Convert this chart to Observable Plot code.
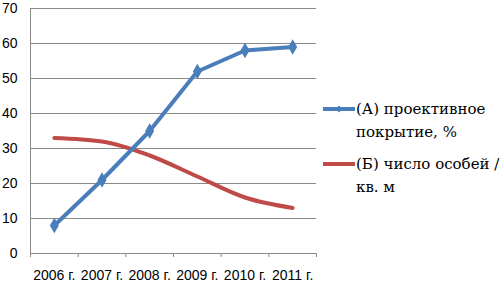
<!DOCTYPE html>
<html><head><meta charset="utf-8">
<script src="https://cdn.jsdelivr.net/npm/d3@7"></script>
<script src="https://cdn.jsdelivr.net/npm/@observablehq/plot@0.6"></script>
<style>
body{margin:0;background:#fff;}
#wrap{position:relative;width:502px;height:282px;overflow:hidden;}
.leg{position:absolute;left:356px;font-family:'DejaVu Serif';font-size:15px;line-height:23px;color:#000;white-space:nowrap;}
</style></head>
<body><div id="wrap"></div>
<script>
const years = ["2006 г.","2007 г.","2008 г.","2009 г.","2010 г.","2011 г."];
const seriesA = [8,21,35,52,58,59];
const seriesB = [33,32,28,22,16,13];
const yTicks = [0,10,20,30,40,50,60,70];
const labelA = ["(А) проективное","покрытие, %"];
const labelB = ["(Б) число особей /","кв. м"];

const dA = years.map((y,i)=>({i:i+0.5, v:seriesA[i]}));
const dB = years.map((y,i)=>({i:i+0.5, v:seriesB[i]}));
const dL = years.map((y,i)=>({i:i+0.5, t:y}));
const bounds = d3.range(years.length+1);

const blue="#4A7EBB", red="#BE4B48";
const chart = Plot.plot({
  width:502, height:282,
  marginLeft:30, marginRight:186, marginTop:8, marginBottom:29,
  x:{type:"linear", domain:[0,years.length], axis:null},
  y:{type:"linear", domain:[0,70], axis:null},
  style:{fontFamily:"Liberation Sans, Arial, sans-serif", fontSize:"14px", background:"#fff"},
  marks:[
    Plot.ruleY(yTicks, {y:d=>d, stroke:"#8a8a8a", strokeWidth:1, strokeOpacity:1}),
    Plot.ruleX([0], {x:d=>d, stroke:"#8a8a8a", strokeOpacity:1}),
    Plot.ruleX(bounds, {x:d=>d, y1:0, y2:0, insetBottom:-4, stroke:"#8a8a8a", strokeOpacity:1}),
    Plot.text(yTicks, {x:d=>0, y:d=>d, text:d=>String(d), textAnchor:"end", dx:-13, fill:"#000", fontSize:14}),
    Plot.text(dL, {x:"i", y:d=>0, text:"t", dy:22, fill:"#000", fontSize:14}),
    Plot.line(dB, {x:"i", y:"v", stroke:red, strokeWidth:4, curve:"monotone-x"}),
    Plot.line(dA, {x:"i", y:"v", stroke:blue, strokeWidth:4, curve:"linear"}),
    Plot.dot(dA, {x:"i", y:"v", symbol:"diamond", r:3.8, fill:blue, stroke:blue})
  ]
});
const wrap=document.getElementById("wrap");
wrap.appendChild(chart);
const svgNS="http://www.w3.org/2000/svg";
const lg=document.createElementNS(svgNS,"svg");
lg.setAttribute("width","40");lg.setAttribute("height","90");
lg.style.position="absolute";lg.style.left="320px";lg.style.top="99px";
lg.innerHTML=`<line x1="3" y1="10" x2="35" y2="10" stroke="${blue}" stroke-width="4"/>
<path d="M19,6.5L22.5,10L19,13.5L15.5,10Z" fill="${blue}"/>
<line x1="3" y1="65" x2="35" y2="65" stroke="${red}" stroke-width="4"/>`;
wrap.appendChild(lg);
function leg(lines, top){
  const d=document.createElement("div");
  d.className="leg";
  d.style.top=top+"px";
  lines.forEach((t,k)=>{ if(k) d.appendChild(document.createElement("br")); d.appendChild(document.createTextNode(t)); });
  wrap.appendChild(d);
}
leg(labelA,98); leg(labelB,153);
</script></body></html>
